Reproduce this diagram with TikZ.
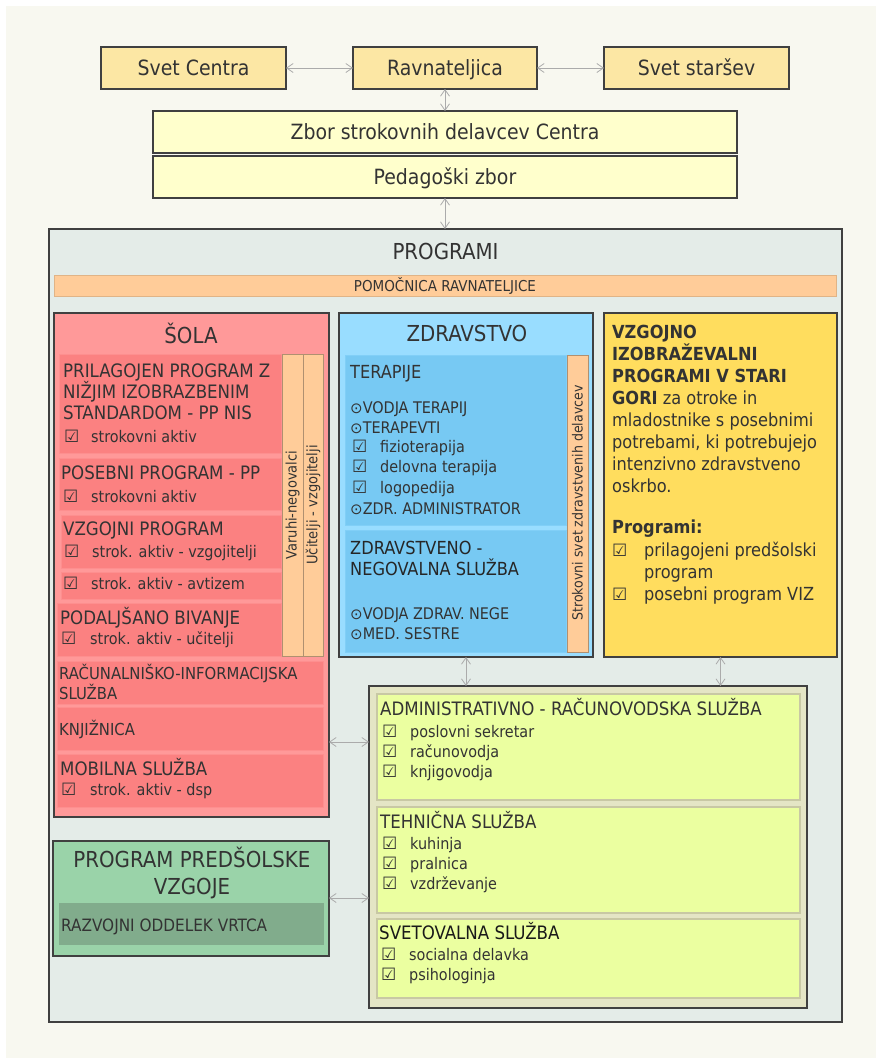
\documentclass[tikz,border=0pt]{standalone}
\usepackage{fontspec}
\IfFontExistsTF{DejaVu Sans Condensed}{\setmainfont{DejaVu Sans Condensed}}{\setmainfont{DejaVu Sans}[FakeStretch=0.9]}
\newfontfamily\symf{DejaVu Sans}
\usetikzlibrary{arrows.meta}
\definecolor{pagebg}{HTML}{F8F8F0}
\definecolor{topfill}{HTML}{FCE7A4}
\definecolor{zborfill}{HTML}{FFFFCC}
\definecolor{progfill}{HTML}{E4ECE8}
\definecolor{barfill}{HTML}{FFCC99}
\definecolor{barline}{HTML}{B09070}
\definecolor{solafill}{HTML}{FF9999}
\definecolor{rowfill}{HTML}{FB8181}
\definecolor{zdrfill}{HTML}{99DDFF}
\definecolor{zdrpanel}{HTML}{77C9F3}
\definecolor{vizfill}{HTML}{FFDD5E}
\definecolor{admfill}{HTML}{E4E5C5}
\definecolor{admpanel}{HTML}{EBFFA0}
\definecolor{admline}{HTML}{C8C8A4}
\definecolor{ppsfill}{HTML}{9AD3A9}
\definecolor{ppsinner}{HTML}{81AC8C}
\definecolor{bord}{HTML}{404040}
\definecolor{txt}{HTML}{333333}
\definecolor{arrc}{HTML}{ABABAB}
\newcommand\fs[1]{\fontsize{#1}{#1}\selectfont}
\newcommand\cb{{\symf\fontsize{17}{17}\selectfont ☑}}
\newcommand\itm[2]{\makebox[#1pt][l]{\cb}#2}
\newcommand\od{{\symf\fontsize{15}{15}\selectfont ⊙}}
\newcommand\bx[6]{\node[#6, anchor=north west, inner sep=0pt, outer sep=0pt, minimum width=#4-#2, minimum height=#5-#3] (#1) at (#2,#3) {};}
\begin{document}
\begin{tikzpicture}[x=1pt,y=-1pt,
  topbox/.style={draw=bord, line width=1.5pt, fill=topfill},
  zborbox/.style={draw=bord, line width=1.5pt, fill=zborfill},
  bigbox/.style={draw=bord, line width=2pt},
  rowbox/.style={fill=rowfill, draw=solafill!60!rowfill, line width=0.8pt},
  barbox/.style={fill=barfill, draw=barline, line width=0.6pt},
  zpanel/.style={fill=zdrpanel, draw=zdrpanel!70!zdrfill, line width=0.8pt},
  apanel/.style={fill=admpanel, draw=admline, line width=1.2pt},
  tx/.style={anchor=base west, inner sep=0pt, text=txt},
  tc/.style={anchor=base, inner sep=0pt, text=txt},
  vt/.style={rotate=90, inner sep=0pt, text=txt, font=\fs{14.5}},
  arr/.style={draw=arrc, line width=0.8pt, {Straight Barb[length=6.5pt,width=9pt]}-{Straight Barb[length=6.5pt,width=9pt]}}
]
\useasboundingbox (0,0) rectangle (876,1058);
\fill[white] (0,0) rectangle (876,1058);
\fill[pagebg] (6,6) rectangle (876,1058);

% top boxes
\bx{sc}{101}{47}{286}{89}{topbox}
\bx{rav}{353}{47}{537}{89}{topbox}
\bx{ss}{604}{47}{789}{89}{topbox}
\bx{zbor}{153}{111}{737}{153}{zborbox}
\bx{ped}{153}{156}{737}{198}{zborbox}
\node[tc, font=\fs{21}] (tsc) at (193.5,75.5) {Svet Centra};
\node[tc, font=\fs{21}] (trav) at (445,75.5) {Ravnateljica};
\node[tc, font=\fs{21}] (tss) at (696.5,75.5) {Svet staršev};
\node[tc, font=\fs{21}] (tzbor) at (445,139.5) {Zbor strokovnih delavcev Centra};
\node[tc, font=\fs{21}] (tped) at (445,184.5) {Pedagoški zbor};

% programi
\bx{prog}{49}{229}{842}{1022}{bigbox, fill=progfill}
\node[tc, font=\fs{22}] (tprog) at (445.5,259) {PROGRAMI};
\bx{pom}{54}{275}{836}{296}{fill=barfill, draw=barfill!80!black!60!barfill, line width=0.8pt}
\node[tc, font=\fs{15}] (tpom) at (445,291.5) {POMOČNICA RAVNATELJICE};

\draw[arr] (sc.east) -- (rav.west);
\draw[arr] (rav.east) -- (ss.west);
\draw[arr] (rav.south) -- (zbor.north);
\draw[arr] (ped.south) -- (ped.south |- prog.north);

% SOLA
\bx{sola}{54}{313}{329}{817}{bigbox, fill=solafill}
\node[tc, font=\fs{22}] (tsola) at (191,343) {ŠOLA};
\bx{r1}{59}{354}{281}{453}{rowbox}
\bx{r2}{59}{458}{281}{510}{rowbox}
\bx{r3}{61}{515}{281}{568}{rowbox}
\bx{r4}{61}{572}{281}{599}{rowbox}
\bx{r5}{57}{603}{281}{656}{rowbox}
\bx{r6}{57}{661}{323}{704}{rowbox}
\bx{r7}{57}{707}{323}{750}{rowbox}
\bx{r8}{57}{754}{323}{807}{rowbox}
\bx{b1}{282}{354}{303}{656}{barbox}
\bx{b2}{303}{354}{323}{656}{barbox}
\node[vt] (tb1) at (292.5,505) {Varuhi-negovalci};
\node[vt] (tb2) at (313,505) {Učitelji - vzgojitelji};

\node[tx, font=\fs{18.5}] (s1a) at (63,377) {PRILAGOJEN PROGRAM Z};
\node[tx, font=\fs{18.5}] (s1b) at (63,398) {NIŽJIM IZOBRAZBENIM};
\node[tx, font=\fs{18.5}] (s1c) at (63,419) {STANDARDOM - PP NIS};
\node[tx, font=\fs{16}] (s1d) at (64,442) {\itm{27}{strokovni aktiv}};
\node[tx, font=\fs{18.5}] (s2a) at (61,479) {POSEBNI PROGRAM - PP};
\node[tx, font=\fs{16}] (s2b) at (63,502) {\itm{28}{strokovni aktiv}};
\node[tx, font=\fs{18.5}] (s3a) at (63,535) {VZGOJNI PROGRAM};
\node[tx, font=\fs{16}] (s3b) at (64,557) {\itm{28}{strok. aktiv - vzgojitelji}};
\node[tx, font=\fs{16}] (s4a) at (63,589) {\itm{28}{strok. aktiv - avtizem}};
\node[tx, font=\fs{18.5}] (s5a) at (60,624) {PODALJŠANO BIVANJE};
\node[tx, font=\fs{16}] (s5b) at (61,644) {\itm{29}{strok. aktiv - učitelji}};
\node[tx, font=\fs{16.5}] (s6a) at (59,679) {RAČUNALNIŠKO-INFORMACIJSKA};
\node[tx, font=\fs{16.5}] (s6b) at (59,699) {SLUŽBA};
\node[tx, font=\fs{16.5}] (s7a) at (59,735) {KNJIŽNICA};
\node[tx, font=\fs{18.5}] (s8a) at (60,775) {MOBILNA SLUŽBA};
\node[tx, font=\fs{16}] (s8b) at (61,795) {\itm{29}{strok. aktiv - dsp}};

% ZDRAVSTVO
\bx{zdr}{339}{313}{593}{657}{bigbox, fill=zdrfill}
\node[tc, font=\fs{22}] (tzdr) at (467,341) {ZDRAVSTVO};
\bx{zp1}{345}{355}{566}{525}{zpanel}
\bx{zp2}{345}{530}{566}{652}{zpanel}
\bx{zb}{567}{355}{588}{652}{barbox}
\node[vt, font=\fs{14}] (tzb) at (577.5,503) {Strokovni svet zdravstvenih delavcev};
\node[tx, font=\fs{18}] (z1) at (350,378.5) {TERAPIJE};
\node[tx, font=\fs{16}] (z2) at (350,413) {\od VODJA TERAPIJ};
\node[tx, font=\fs{16}] (z3) at (350,433) {\od TERAPEVTI};
\node[tx, font=\fs{16}] (z4) at (352,452.5) {\itm{28}{fizioterapija}};
\node[tx, font=\fs{16}] (z5) at (352,472.5) {\itm{28}{delovna terapija}};
\node[tx, font=\fs{16}] (z6) at (352,493) {\itm{28}{logopedija}};
\node[tx, font=\fs{16}] (z7) at (350,514) {\od ZDR. ADMINISTRATOR};
\node[tx, font=\fs{18}, text=black!85] (z8) at (350,554.5) {ZDRAVSTVENO -};
\node[tx, font=\fs{18}, text=black!85] (z9) at (350,575) {NEGOVALNA SLUŽBA};
\node[tx, font=\fs{16}] (z10) at (350,619) {\od VODJA ZDRAV. NEGE};
\node[tx, font=\fs{16}] (z11) at (350,639) {\od MED. SESTRE};

% VIZ
\bx{viz}{604}{313}{837}{657}{bigbox, fill=vizfill}
\node[tx, font=\fs{18}\bfseries] (v1) at (612,338) {VZGOJNO};
\node[tx, font=\fs{18}\bfseries] (v2) at (612,360) {IZOBRAŽEVALNI};
\node[tx, font=\fs{18}\bfseries] (v3) at (612,382) {PROGRAMI V STARI};
\node[tx, font=\fs{18}] (v4) at (612,404) {\textbf{GORI} za otroke in};
\node[tx, font=\fs{18}] (v5) at (612,426) {mladostnike s posebnimi};
\node[tx, font=\fs{18}] (v6) at (612,448) {potrebami, ki potrebujejo};
\node[tx, font=\fs{18}] (v7) at (612,470) {intenzivno zdravstveno};
\node[tx, font=\fs{18}] (v8) at (612,492) {oskrbo.};
\node[tx, font=\fs{18}\bfseries] (v9) at (612,533) {Programi:};
\node[tx, font=\fs{18}] (v10) at (612,556) {\itm{32}{prilagojeni predšolski}};
\node[tx, font=\fs{18}] (v11) at (644,578) {program};
\node[tx, font=\fs{18}] (v12) at (612,600) {\itm{32}{posebni program VIZ}};

% ADMIN
\bx{adm}{369}{686}{807}{1008}{bigbox, fill=admfill}
\bx{ap1}{377}{694}{800}{800}{apanel}
\bx{ap2}{377}{807}{800}{913}{apanel}
\bx{ap3}{377}{919}{800}{998}{apanel}
\node[tx, font=\fs{18.5}] (a1) at (380,715.5) {ADMINISTRATIVNO - RAČUNOVODSKA SLUŽBA};
\node[tx, font=\fs{16}] (a2) at (382,737) {\itm{28}{poslovni sekretar}};
\node[tx, font=\fs{16}] (a3) at (382,757) {\itm{28}{računovodja}};
\node[tx, font=\fs{16}] (a4) at (382,777) {\itm{28}{knjigovodja}};
\node[tx, font=\fs{18.5}] (a5) at (380,828.5) {TEHNIČNA SLUŽBA};
\node[tx, font=\fs{16}] (a6) at (382,849) {\itm{28}{kuhinja}};
\node[tx, font=\fs{16}] (a7) at (382,869) {\itm{28}{pralnica}};
\node[tx, font=\fs{16}] (a8) at (382,889) {\itm{28}{vzdrževanje}};
\node[tx, font=\fs{18.5}, text=black!90] (a9) at (379,939.5) {SVETOVALNA SLUŽBA};
\node[tx, font=\fs{16}] (a10) at (381,960) {\itm{28}{socialna delavka}};
\node[tx, font=\fs{16}] (a11) at (381,980) {\itm{28}{psihologinja}};

% PREDSOLSKA
\bx{pps}{53}{841}{329}{956}{bigbox, fill=ppsfill}
\bx{ppi}{59}{903}{324}{945}{fill=ppsinner}
\node[tc, font=\fs{22}] (p1) at (192,867) {PROGRAM PREDŠOLSKE};
\node[tc, font=\fs{22}] (p2) at (192,894) {VZGOJE};
\node[tx, font=\fs{17}] (p3) at (61,931) {RAZVOJNI ODDELEK VRTCA};

% connectors
\draw[arr] (zdr.south) -- (zdr.south |- adm.north);
\draw[arr] (viz.south) -- (viz.south |- adm.north);
\draw[arr] (sola.east |- 0,742) -- (adm.west |- 0,742);
\draw[arr] (pps.east |- 0,898) -- (adm.west |- 0,898);
\end{tikzpicture}
\end{document}
